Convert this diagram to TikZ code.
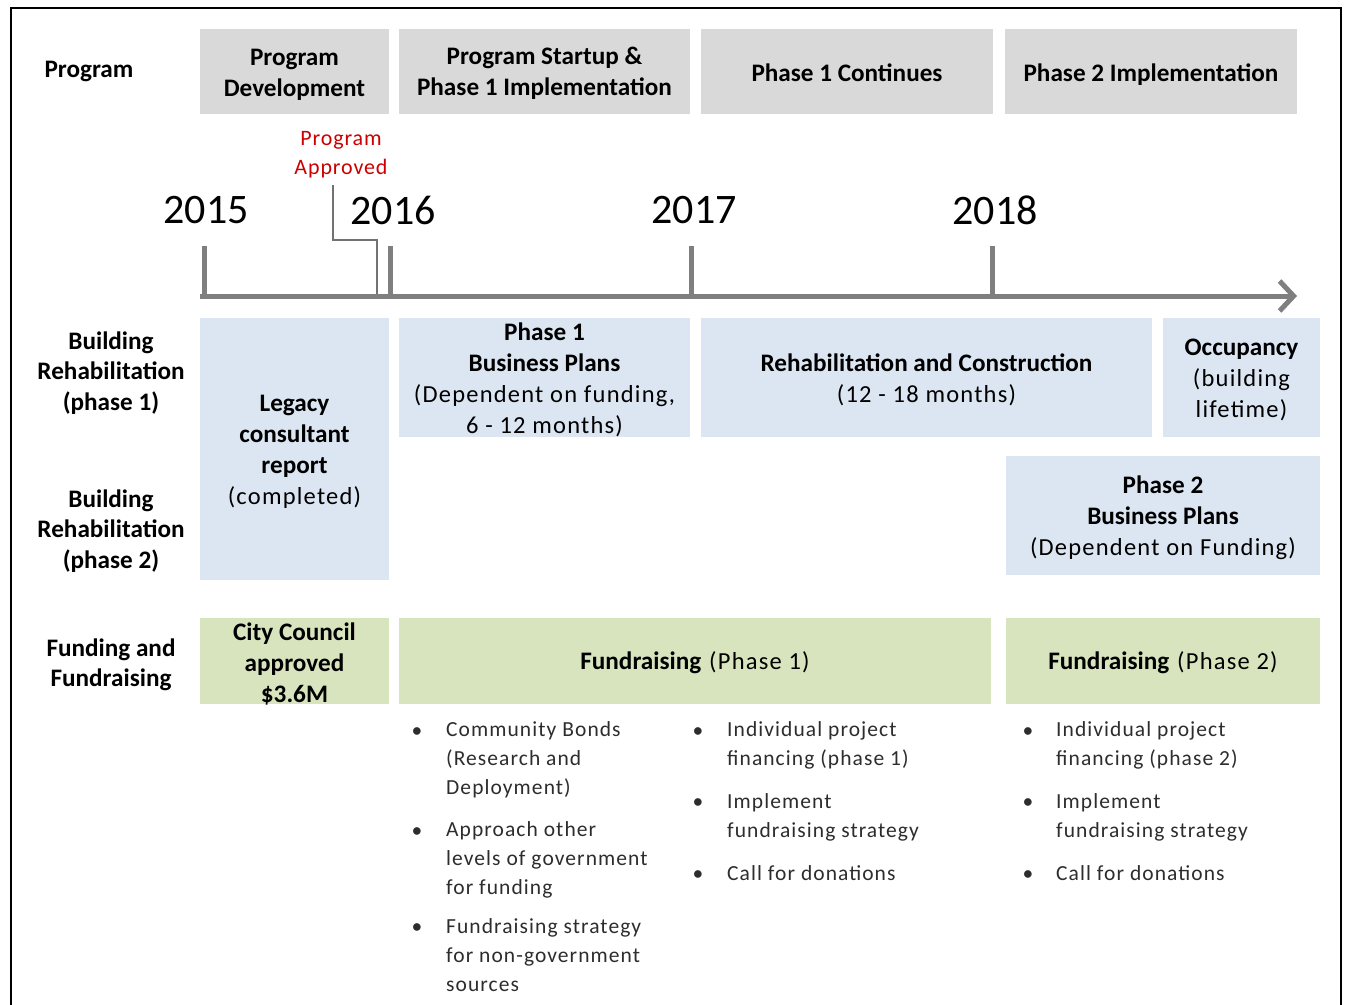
\documentclass[tikz,border=0pt]{standalone}
\usepackage{fontspec}
\setmainfont{Carlito}
\newfontfamily\widerg[LetterSpace=5]{Carlito}
\newfontfamily\widered[LetterSpace=4]{Carlito}
\usetikzlibrary{arrows.meta}
\definecolor{graybox}{RGB}{217,217,217}
\definecolor{bluebox}{RGB}{220,230,242}
\definecolor{greenbox}{RGB}{215,228,189}
\definecolor{axisgray}{RGB}{127,127,127}
\definecolor{redtxt}{RGB}{204,0,0}
\definecolor{bultxt}{RGB}{45,45,45}
\newcommand{\rg}[1]{{\widerg\fontsize{24.5}{31}\selectfont #1}}
\begin{document}
\begin{tikzpicture}[x=1pt,y=-1pt,
  box/.style={inner sep=0pt},
  gbox/.style={box, fill=graybox},
  bbox/.style={box, fill=bluebox},
  fbox/.style={box, fill=greenbox},
  btxt/.style={inner sep=0pt, align=center, text=black, font=\fontsize{25.2}{31}\selectfont},
  rowlabel/.style={inner sep=0pt, align=center, font=\fontsize{25.2}{30.5}\selectfont\bfseries},
  year/.style={inner sep=0pt, font=\fontsize{42}{46}\selectfont},
  tick/.style={line width=5pt, draw=axisgray},
  bul/.style={inner sep=0pt, anchor=base west, align=left, text=bultxt, font=\widerg\fontsize{21.5}{28.6}\selectfont},
  dot/.style={inner sep=0pt, anchor=base, text=bultxt, font=\fontsize{21.5}{28.6}\selectfont},
]
\useasboundingbox (0,0) rectangle (1348,1004);
\clip (0,0) rectangle (1348,1004);
\fill[white] (0,0) rectangle (1348,1004);
\draw[line width=2pt] (11,8) rectangle (1341,1030);

% Program row
\node[rowlabel] (lprog) at (89,71) {Program};
\node[gbox, minimum width=189pt, minimum height=85pt] (pd) at (294.5,71.5) {};
\node[btxt] (pdt) at ([yshift=-3pt]pd.center) {\textbf{Program}\\\textbf{Development}};
\node[gbox, minimum width=291pt, minimum height=85pt] (ps) at (544.5,71.5) {};
\node[btxt] (pst) at ([yshift=-2pt]ps.center) {\textbf{Program Startup \&}\\\textbf{Phase 1 Implementation}};
\node[gbox, minimum width=292pt, minimum height=85pt] (p1c) at (847,71.5) {};
\node[btxt] (p1ct) at ([yshift=-1pt]p1c.center) {\textbf{Phase 1 Continues}};
\node[gbox, minimum width=292pt, minimum height=85pt] (p2i) at (1151,71.5) {};
\node[btxt] (p2it) at ([yshift=-3pt]p2i.center) {\textbf{Phase 2 Implementation}};

% Program approved
\node[inner sep=0pt, align=center, text=redtxt, font=\widered\fontsize{22}{29}\selectfont] (pa) at (341,155) {Program\\Approved};
\coordinate (pa1) at (333,185);
\coordinate (pa2) at (377,240);
\coordinate (pa3) at (377,295);
\draw[axisgray!90!black, line width=1.2pt] (pa1) |- (pa2) -- (pa3);

% Years
\node[year] (y15) at (206,210) {2015};
\node[year] (y16) at (393,210) {2016};
\node[year] (y17) at (694,210) {2017};
\node[year] (y18) at (995,210) {2018};

% Timeline
\coordinate (t0) at (200,296);
\coordinate (tE) at (1297,296);
\draw[line width=5pt, draw=axisgray, -{Straight Barb[length=14pt,width=30pt,line width=5pt]}] (t0) -- (tE);
\coordinate (k15) at (204,246); \coordinate (k15b) at (204,296);
\coordinate (k16) at (390,246); \coordinate (k16b) at (390,296);
\coordinate (k17) at (691,246); \coordinate (k17b) at (691,296);
\coordinate (k18) at (992,246); \coordinate (k18b) at (992,296);
\draw[tick] (k15) -- (k15b);
\draw[tick] (k16) -- (k16b);
\draw[tick] (k17) -- (k17b);
\draw[tick] (k18) -- (k18b);

% Building rehabilitation rows
\node[rowlabel] (lb1) at (111,373) {Building\\Rehabilitation\\(phase 1)};
\node[rowlabel] (lb2) at (111,531) {Building\\Rehabilitation\\(phase 2)};
\node[bbox, minimum width=189pt, minimum height=262pt] (leg) at (294.5,449) {};
\node[btxt] (legt) at ([yshift=-2.5pt]leg.center) {\textbf{Legacy}\\\textbf{consultant}\\\textbf{report}\\\rg{(completed)}};
\node[bbox, minimum width=291pt, minimum height=119pt] (bp1) at (544.5,377.5) {};
\node[btxt] (bp1t) at ([yshift=-2pt]bp1.center) {\textbf{Phase 1}\\\textbf{Business Plans}\\\rg{(Dependent on funding,}\\\rg{6 - 12 months)}};
\node[bbox, minimum width=451pt, minimum height=119pt] (rc) at (926.5,377.5) {};
\node[btxt] (rct) at ([yshift=-2.5pt]rc.center) {\textbf{Rehabilitation and Construction}\\\rg{(12 - 18 months)}};
\node[bbox, minimum width=157pt, minimum height=119pt] (occ) at (1241.5,377.5) {};
\node[btxt] (occt) at ([yshift=-2.5pt]occ.center) {\textbf{Occupancy}\\\rg{(building}\\\rg{lifetime)}};
\node[bbox, minimum width=314pt, minimum height=119pt] (bp2) at (1163,515.5) {};
\node[btxt] (bp2t) at ([yshift=-2.5pt]bp2.center) {\textbf{Phase 2}\\\textbf{Business Plans}\\\rg{(Dependent on Funding)}};

% Funding row
\node[rowlabel] (lf) at (111,665) {Funding and\\Fundraising};
\node[fbox, minimum width=189pt, minimum height=86pt] (cc) at (294.5,661) {};
\node[btxt] (cct) at (294.5,664) {\textbf{City Council}\\\textbf{approved}\\\textbf{\$3.6M}};
\node[fbox, minimum width=592pt, minimum height=86pt] (fr1) at (695,661) {};
\node[btxt] (fr1t) at ([yshift=-1.5pt]fr1.center) {\textbf{Fundraising}\hspace{8pt}\rg{(Phase 1)}};
\node[fbox, minimum width=314pt, minimum height=86pt] (fr2) at (1163,661) {};
\node[btxt] (fr2t) at ([yshift=-1.5pt]fr2.center) {\textbf{Fundraising}\hspace{8pt}\rg{(Phase 2)}};

% Bullets column 1
\node[dot] (d11) at (417,737) {•};
\node[bul] (b11) at (446,794) {Community Bonds\\(Research and\\Deployment)};
\node[dot] (d12) at (417,837) {•};
\node[bul] (b12) at (446,894) {Approach other\\levels of government\\for funding};
\node[dot] (d13) at (417,933) {•};
\node[bul] (b13) at (446,991) {Fundraising strategy\\for non-government\\sources};

% Bullets column 2
\node[dot] (d21) at (698,737) {•};
\node[bul] (b21) at (727,765.5) {Individual project\\financing (phase 1)};
\node[dot] (d22) at (698,808) {•};
\node[bul] (b22) at (727,837) {Implement\\fundraising strategy};
\node[dot] (d23) at (698,880) {•};
\node[bul] (b23) at (727,880) {Call for donations};

% Bullets column 3
\node[dot] (d31) at (1028,737) {•};
\node[bul] (b31) at (1056,765.5) {Individual project\\financing (phase 2)};
\node[dot] (d32) at (1028,808) {•};
\node[bul] (b32) at (1056,837) {Implement\\fundraising strategy};
\node[dot] (d33) at (1028,880) {•};
\node[bul] (b33) at (1056,880) {Call for donations};
\end{tikzpicture}
\end{document}
